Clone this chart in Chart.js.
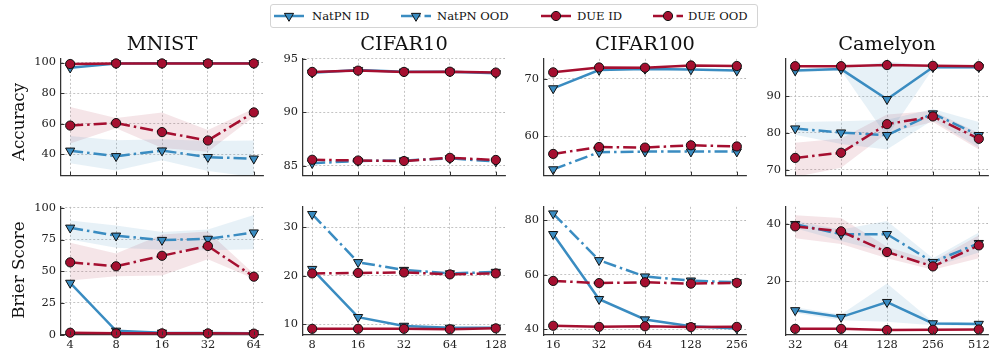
<!DOCTYPE html>
<html><head><meta charset="utf-8">
<script src="https://cdn.jsdelivr.net/npm/chart.js@4"></script>
<style>
html,body{margin:0;padding:0;width:991px;height:351px;overflow:hidden;background:#fff;font-family:'DejaVu Serif',serif;color:#111;}
canvas.panel{position:absolute;}
.title{position:absolute;font-size:19.4px;line-height:19.4px;text-align:center;width:202px;white-space:nowrap;}
.ylab{position:absolute;font-size:16.7px;line-height:20px;height:20px;width:140px;text-align:center;white-space:nowrap;transform:rotate(-90deg);}
#legend{position:absolute;left:270px;top:4px;width:486px;height:22px;border:1px solid #d4d4d4;border-radius:3px;background:#fff;}
.lh{position:absolute;top:4px;}
.lt{position:absolute;top:3px;font-size:11.6px;line-height:16px;white-space:nowrap;}
</style></head>
<body>
<div id="legend"></div>
<script>
// ---------------- data ----------------
const mnistX    = ['4','8','16','32','64'];
const cifar10X  = ['8','16','32','64','128'];
const cifar100X = ['16','32','64','128','256'];
const camelyonX = ['32','64','128','256','512'];

const seriesNames = ['NatPN ID','NatPN OOD','DUE ID','DUE OOD'];
const panelTitles = ['MNIST','CIFAR10','CIFAR100','Camelyon'];
const rowLabels = ['Accuracy','Brier Score'];

// Accuracy
const mnAccNatID   = [96.6, 99.4, 99.5, 99.5, 99.5];
const mnAccNatOOD  = [42.2, 38.6, 42.3, 38.0, 37.0];
const mnAccNatOODLo= [34.0, 29.2, 36.0, 29.0, 25.0];
const mnAccNatOODHi= [51.9, 49.0, 49.7, 48.5, 48.9];
const mnAccDueID   = [99.0, 99.4, 99.4, 99.4, 99.4];
const mnAccDueOOD  = [58.7, 60.3, 54.4, 48.9, 67.3];
const mnAccDueOODLo= [46.9, 57.0, 44.0, 41.5, 64.5];
const mnAccDueOODHi= [70.9, 63.6, 67.2, 55.8, 69.9];

const c10AccNatID  = [93.70, 93.95, 93.80, 93.80, 93.65];
const c10AccNatOOD = [85.25, 85.45, 85.50, 85.70, 85.40];
const c10AccDueID  = [93.78, 93.90, 93.78, 93.80, 93.72];
const c10AccDueOOD = [85.57, 85.50, 85.45, 85.75, 85.55];

const c100AccNatID  = [68.3, 71.5, 71.7, 71.6, 71.4];
const c100AccNatOOD = [54.2, 57.2, 57.3, 57.3, 57.3];
const c100AccDueID  = [71.1, 71.95, 71.9, 72.3, 72.2];
const c100AccDueOOD = [56.9, 58.1, 58.0, 58.4, 58.2];

const camAccNatID   = [97.0, 97.4, 89.2, 97.9, 97.9];
const camAccNatIDLo = [96.5, 97.0, 79.0, 97.5, 97.5];
const camAccNatIDHi = [97.5, 97.8, 99.5, 98.3, 98.3];
const camAccNatOOD  = [81.2, 80.1, 79.4, 85.3, 79.4];
const camAccNatOODLo= [79.5, 77.0, 75.5, 83.5, 76.0];
const camAccNatOODHi= [83.0, 83.2, 83.6, 86.5, 83.0];
const camAccDueID   = [98.2, 98.2, 98.5, 98.3, 98.2];
const camAccDueOOD  = [73.2, 74.6, 82.4, 84.5, 78.4];
const camAccDueOODLo= [68.0, 70.5, 80.0, 83.0, 75.5];
const camAccDueOODHi= [77.3, 78.5, 85.0, 86.0, 80.0];

// Brier score
const mnBrNatID    = [40.8, 3.0, 1.5, 1.2, 1.0];
const mnBrNatOOD   = [84.3, 78.0, 74.6, 75.5, 80.5];
const mnBrNatOODLo = [75.0, 68.5, 67.0, 66.5, 67.3];
const mnBrNatOODHi = [90.0, 86.0, 81.0, 83.0, 94.4];
const mnBrDueID    = [1.5, 1.0, 1.0, 1.0, 0.8];
const mnBrDueOOD   = [57.0, 53.9, 62.2, 69.9, 45.7];
const mnBrDueOODLo = [42.7, 46.0, 46.6, 59.5, 44.0];
const mnBrDueOODHi = [72.4, 64.0, 78.9, 81.4, 48.0];

const c10BrNatID  = [21.4, 11.5, 9.7, 9.3, 9.3];
const c10BrNatOOD = [32.7, 22.8, 21.2, 20.5, 20.8];
const c10BrDueID  = [9.1, 9.1, 9.1, 9.0, 9.2];
const c10BrDueOOD = [20.5, 20.6, 20.7, 20.3, 20.5];

const c100BrNatID  = [74.9, 51.0, 43.5, 41.0, 40.2];
const c100BrNatOOD = [82.5, 65.3, 59.3, 57.8, 57.2];
const c100BrDueID  = [41.2, 40.8, 41.0, 40.7, 40.8];
const c100BrDueOOD = [57.7, 56.9, 57.2, 56.7, 57.0];

const camBrNatID    = [9.95, 7.6, 12.8, 5.4, 5.2];
const camBrNatIDLo  = [9.0, 6.5, 6.0, 4.8, 4.7];
const camBrNatIDHi  = [11.0, 8.5, 19.3, 6.0, 5.8];
const camBrNatOOD   = [39.9, 36.4, 36.4, 26.7, 33.3];
const camBrNatOODLo = [38.5, 34.0, 30.0, 25.0, 30.0];
const camBrNatOODHi = [41.0, 38.0, 41.0, 28.0, 37.0];
const camBrDueID    = [3.5, 3.5, 3.1, 3.2, 3.3];
const camBrDueOOD   = [39.1, 37.4, 30.2, 25.2, 32.5];
const camBrDueOODLo = [35.0, 33.0, 28.0, 24.0, 28.0];
const camBrDueOODHi = [43.0, 42.0, 32.0, 27.0, 36.0];

// axis tick values
const mnAccTicks = [40, 60, 80, 100];
const c10AccTicks = [85, 90, 95];
const c100AccTicks = [60, 70];
const camAccTicks = [70, 80, 90];
const mnBrTicks = [0, 25, 50, 75, 100];
const c10BrTicks = [10, 20, 30];
const c100BrTicks = [40, 60, 80];
const camBrTicks = [20, 40];

// ---------------- styling / layout ----------------
const BLUE = '#3a8cc1', RED = '#a50f30';
const BLUE_BAND = 'rgba(58,140,193,0.12)', RED_BAND = 'rgba(165,15,48,0.11)';
const DASHDOT = [13, 4, 2.5, 4];
const spineX = [61, 303, 544, 786];
const rowTop = [57, 205], rowH = [129, 130];
const plotW = 202, yAxisW = 50, padTop = 10, padRight = 15;
Chart.defaults.font.family = "'DejaVu Serif', serif";
Chart.defaults.font.size = 11.4;
Chart.defaults.color = '#222';

const inTicks = {
  id: 'inTicks',
  afterDraw(chart) {
    const {ctx, chartArea: a, scales: {x, y}} = chart;
    ctx.save();
    ctx.strokeStyle = '#333'; ctx.lineWidth = 1; ctx.setLineDash([]);
    ctx.beginPath();
    x.ticks.forEach(t => { const px = Math.round(x.getPixelForValue(t.value)) + 0.5; ctx.moveTo(px, a.bottom); ctx.lineTo(px, a.bottom - 3.5); });
    y.ticks.forEach(t => { const py = Math.round(y.getPixelForValue(t.value)) + 0.5; ctx.moveTo(a.left, py); ctx.lineTo(a.left + 3.5, py); });
    ctx.stroke();
    ctx.restore();
  }
};

function pts(arr) { return arr.map((v, i) => ({x: i, y: v})); }

function lineDS(label, vals, kind) {
  const isNat = kind.startsWith('nat');
  const isOOD = kind.endsWith('OOD');
  const order = {natID: 4, natOOD: 3, dueID: 2, dueOOD: 1}[kind];
  return {
    label, data: pts(vals), order,
    borderColor: isNat ? BLUE : RED,
    backgroundColor: isNat ? BLUE : RED,
    borderWidth: 2.5,
    borderDash: isOOD ? DASHDOT : [],
    pointStyle: isNat ? 'triangle' : 'circle',
    rotation: isNat ? 180 : 0,
    pointRadius: isNat ? 5.3 : 4.6,
    pointBorderColor: '#111', pointBorderWidth: 1,
    pointBackgroundColor: isNat ? BLUE : RED,
    fill: false, tension: 0, clip: false
  };
}
function bandDS(lo, hi, color, order) {
  return [
    {data: pts(hi), order, borderColor: 'transparent', borderWidth: 0, pointRadius: 0, fill: '+1', backgroundColor: color, tension: 0},
    {data: pts(lo), order, borderColor: 'transparent', borderWidth: 0, pointRadius: 0, fill: false, tension: 0}
  ];
}

const panels = [
  {r:0,c:0,xl:mnistX,yMin:26.2,yMax:102.4,yt:mnAccTicks,s:[mnAccNatID,mnAccNatOOD,mnAccDueID,mnAccDueOOD],
    bands:[[mnAccNatOODLo,mnAccNatOODHi,BLUE_BAND],[mnAccDueOODLo,mnAccDueOODHi,RED_BAND]]},
  {r:0,c:1,xl:cifar10X,yMin:84.13,yMax:95.0,yt:c10AccTicks,s:[c10AccNatID,c10AccNatOOD,c10AccDueID,c10AccDueOOD],bands:[]},
  {r:0,c:2,xl:cifar100X,yMin:53.2,yMax:73.45,yt:c100AccTicks,s:[c100AccNatID,c100AccNatOOD,c100AccDueID,c100AccDueOOD],bands:[]},
  {r:0,c:3,xl:camelyonX,yMin:68.5,yMax:100.2,yt:camAccTicks,s:[camAccNatID,camAccNatOOD,camAccDueID,camAccDueOOD],
    bands:[[camAccNatIDLo,camAccNatIDHi,BLUE_BAND],[camAccNatOODLo,camAccNatOODHi,BLUE_BAND],[camAccDueOODLo,camAccDueOODHi,RED_BAND]]},
  {r:1,c:0,xl:mnistX,yMin:-0.3,yMax:100.8,yt:mnBrTicks,s:[mnBrNatID,mnBrNatOOD,mnBrDueID,mnBrDueOOD],
    bands:[[mnBrNatOODLo,mnBrNatOODHi,BLUE_BAND],[mnBrDueOODLo,mnBrDueOODHi,RED_BAND]]},
  {r:1,c:1,xl:cifar10X,yMin:7.83,yMax:34.2,yt:c10BrTicks,s:[c10BrNatID,c10BrNatOOD,c10BrDueID,c10BrDueOOD],bands:[]},
  {r:1,c:2,xl:cifar100X,yMin:37.8,yMax:84.96,yt:c100BrTicks,s:[c100BrNatID,c100BrNatOOD,c100BrDueID,c100BrDueOOD],bands:[]},
  {r:1,c:3,xl:camelyonX,yMin:1.37,yMax:45.9,yt:camBrTicks,s:[camBrNatID,camBrNatOOD,camBrDueID,camBrDueOOD],
    bands:[[camBrNatIDLo,camBrNatIDHi,BLUE_BAND],[camBrNatOODLo,camBrNatOODHi,BLUE_BAND],[camBrDueOODLo,camBrDueOODHi,RED_BAND]]}
];

const kinds = ['natID','natOOD','dueID','dueOOD'];

panels.forEach(p => {
  const showX = p.r === 1;
  const xH = showX ? 16 : 1;
  const cv = document.createElement('canvas');
  cv.className = 'panel';
  const W = yAxisW + plotW + padRight, H = padTop + rowH[p.r] + xH;
  cv.width = W; cv.height = H;
  cv.style.left = (spineX[p.c] - yAxisW) + 'px';
  cv.style.top = (rowTop[p.r] - padTop) + 'px';
  cv.style.width = W + 'px'; cv.style.height = H + 'px';
  document.body.appendChild(cv);

  const datasets = [];
  p.s.forEach((vals, i) => datasets.push(lineDS(seriesNames[i], vals, kinds[i])));
  p.bands.forEach((b, j) => datasets.push(...bandDS(b[0], b[1], b[2], 10 + j)));

  const grid = {color: '#b5b5b5', lineWidth: 0.8, drawTicks: false};
  const border = {display: true, color: '#333', width: 1.25, dash: [2, 2]};
  new Chart(cv, {
    type: 'line',
    data: {datasets},
    options: {
      responsive: false, animation: false, devicePixelRatio: 1,
      layout: {padding: {top: padTop, right: padRight, left: 0, bottom: 0}},
      plugins: {legend: {display: false}, tooltip: {enabled: false}},
      scales: {
        x: {type: 'linear', min: -0.2, max: 4.2,
            afterBuildTicks: s => { s.ticks = [0,1,2,3,4].map(v => ({value: v})); },
            afterFit: s => { s.height = xH; },
            ticks: {display: showX, padding: 3, maxRotation: 0, autoSkip: false, callback: v => p.xl[v]},
            grid, border},
        y: {type: 'linear', min: p.yMin, max: p.yMax,
            afterBuildTicks: s => { s.ticks = p.yt.map(v => ({value: v})); },
            afterFit: s => { s.width = yAxisW; },
            ticks: {padding: 5},
            grid, border}
      }
    },
    plugins: [inTicks]
  });

  if (p.r === 0) {
    const t = document.createElement('div');
    t.className = 'title';
    t.textContent = panelTitles[p.c];
    t.style.left = spineX[p.c] + 'px';
    t.style.top = '33.6px';
    document.body.appendChild(t);
  }
});

rowLabels.forEach((txt, r) => {
  const d = document.createElement('div');
  d.className = 'ylab';
  d.textContent = txt;
  const cy = rowTop[r] + rowH[r] / 2;
  d.style.left = (17.5 - 70) + 'px';
  d.style.top = (cy - 10) + 'px';
  document.body.appendChild(d);
});

// legend (handles drawn on small canvases, texts as real text)
const legend = document.getElementById('legend');
const handleX = [2, 129, 269, 381];
const textX = [41, 166, 306, 417];
kinds.forEach((k, i) => {
  const isNat = k.startsWith('nat'), isOOD = k.endsWith('OOD');
  const c = document.createElement('canvas');
  c.width = 32; c.height = 14; c.className = 'lh';
  c.style.left = handleX[i] + 'px';
  legend.appendChild(c);
  const ctx = c.getContext('2d');
  ctx.strokeStyle = isNat ? BLUE : RED; ctx.lineWidth = 2.5;
  ctx.setLineDash(isOOD ? DASHDOT : []);
  ctx.beginPath(); ctx.moveTo(1, 7); ctx.lineTo(31, 7); ctx.stroke();
  ctx.setLineDash([]);
  ctx.fillStyle = isNat ? BLUE : RED; ctx.strokeStyle = '#111'; ctx.lineWidth = 1;
  ctx.beginPath();
  if (isNat) { ctx.moveTo(16 - 4.6, 7 - 2.65); ctx.lineTo(16 + 4.6, 7 - 2.65); ctx.lineTo(16, 7 + 5.3); ctx.closePath(); }
  else { ctx.arc(16, 7, 4.6, 0, Math.PI * 2); }
  ctx.fill(); ctx.stroke();
  const t = document.createElement('span');
  t.className = 'lt'; t.textContent = seriesNames[i];
  t.style.left = textX[i] + 'px';
  legend.appendChild(t);
});
</script>
</body></html>
